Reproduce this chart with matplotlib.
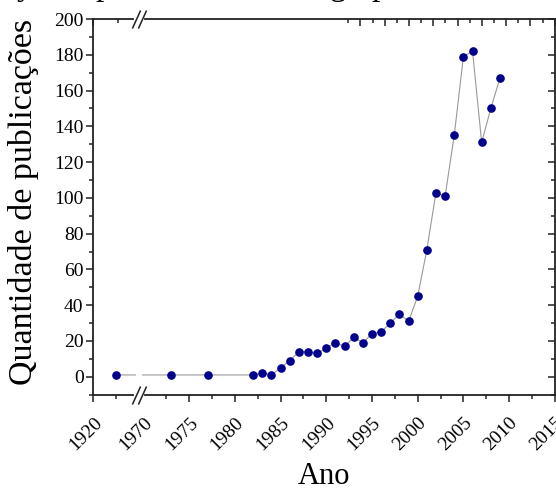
import numpy as np
import matplotlib
matplotlib.use("Agg")
import matplotlib.pyplot as plt
from matplotlib.ticker import FixedLocator, MultipleLocator
from matplotlib.transforms import offset_copy

plt.rcParams["font.family"] = ["Liberation Serif", "DejaVu Serif"]

# publications per year
years = [1925, 1973, 1977, 1982, 1983, 1984, 1985, 1986, 1987, 1988, 1989,
         1990, 1991, 1992, 1993, 1994, 1995, 1996, 1997, 1998, 1999,
         2000, 2001, 2002, 2003, 2004, 2005, 2006, 2007, 2008, 2009]
counts = [1, 1, 1, 1, 2, 1, 5, 9, 14, 14, 13,
          16, 19, 17, 22, 19, 24, 25, 30, 35, 31,
          45, 71, 103, 101, 135, 179, 182, 131, 150, 167]

major_years = [1920, 1970, 1975, 1980, 1985, 1990, 1995, 2000, 2005, 2010, 2015]
minor_years = [1925] + list(np.arange(1972.5, 2015, 5))

# broken x axis: 1920-1929 squeezed, 1929-1970 collapsed into the gap
brk_x = [1920, 1929, 1970, 2015]
brk_p = [0.0, 4.5, 5.5, 50.5]


def fwd(x):
    return np.interp(x, brk_x, brk_p)


def inv(p):
    return np.interp(p, brk_p, brk_x)


fig = plt.figure(figsize=(5.56, 4.91), dpi=100)
ax = fig.add_axes([0.1678, 0.1963, 0.830, 0.7650])
ax.set_xscale("function", functions=(fwd, inv))
ax.set_xlim(1920, 2015)
ax.set_ylim(-10, 200)

ax.plot(years, counts, color="#999999", lw=0.8, zorder=1.5)
ax.plot(years, counts, ls="none", marker="o", ms=5.2, color="#00008b", zorder=3)

# gap in the line at the break
ax.axvspan(inv(4.65), inv(5.35), color="white", lw=0, zorder=1.8)

ax.xaxis.set_major_locator(FixedLocator(major_years))
ax.xaxis.set_minor_locator(FixedLocator(minor_years))
ax.set_xticklabels([str(y) for y in major_years], rotation=45,
                   ha="right", va="top", rotation_mode="anchor", fontsize=14)
ax.yaxis.set_major_locator(MultipleLocator(20))
ax.yaxis.set_minor_locator(MultipleLocator(10))
ax.set_yticks(range(0, 201, 20))
ax.tick_params(axis="y", labelsize=14)
ax.tick_params(which="major", direction="out", length=5, width=1.1, color="#222222", pad=2)
ax.tick_params(which="minor", direction="out", length=3, width=1.1, color="#222222")
ax.tick_params(axis="x", pad=9)
t = ax.xaxis.get_major_ticks()[1]
t.tick1line.set_visible(False)

for s in ax.spines.values():
    s.set_linewidth(1.3)
    s.set_color("#222222")

# inward ticks on the top and right sides
top = ax.secondary_xaxis("top")
top.xaxis.set_major_locator(FixedLocator([y for y in major_years if y != 1970]))
top.xaxis.set_minor_locator(FixedLocator(minor_years))
top.tick_params(which="major", direction="in", length=5, width=1.1, color="#222222", labeltop=False)
top.tick_params(which="minor", direction="in", length=3, width=1.1, color="#222222")
top.spines["top"].set_visible(False)

right = ax.secondary_yaxis("right")
right.yaxis.set_major_locator(MultipleLocator(20))
right.yaxis.set_minor_locator(MultipleLocator(10))
right.tick_params(which="major", direction="in", length=5, width=1.1, color="#222222", labelright=False)
right.tick_params(which="minor", direction="in", length=3, width=1.1, color="#222222")
right.spines["right"].set_visible(False)

# break marks on the bottom and top spines
brk_c = inv(5.0)
xtr = ax.get_xaxis_transform()
for yy in (0, 1):
    ax.plot([inv(4.72), inv(5.28)], [yy, yy], color="white", lw=3,
            transform=xtr, clip_on=False, zorder=5)
    for dx in (-2.6, 2.6):
        ax.plot([brk_c], [yy], marker=[(-1, -2.2), (1, 2.2)], ms=13,
                mew=1.1, color="#222222", ls="none", clip_on=False, zorder=6,
                transform=offset_copy(xtr, fig=fig, x=dx, y=0, units="dots"))

fig.text(24 / 556, 1 - 202 / 491, "Quantidade de publicações", rotation=90,
         ha="center", va="center", fontsize=24.5)
fig.text(324 / 556, 1 - 476 / 491, "Ano", ha="center", va="center", fontsize=22)

# remnants of a title line cut off by the top of the image
for ch, px in (("y", 25), ("p", 104), ("g", 338), ("p", 380)):
    fig.text(px / 556, 1 + 5 / 491, ch, ha="center", va="baseline", fontsize=24)

fig.savefig("out.png", dpi=100)
